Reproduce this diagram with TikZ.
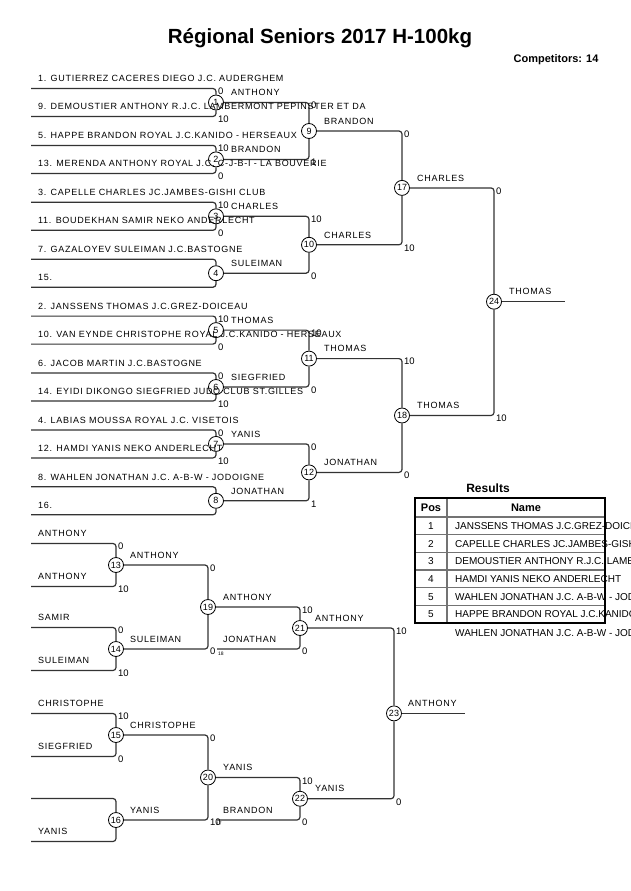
\documentclass[tikz,border=0pt]{standalone}
\usepackage{fontspec}
\setmainfont{Liberation Sans}
\newfontfamily\spaced[LetterSpace=8]{Liberation Sans}

\begin{document}
\begin{tikzpicture}[
    x=1pt, y=-1pt,
    wire/.style={draw=black!80, line width=1.2pt, rounded corners=3pt},
    bout/.style={circle, draw, line width=0.8pt, fill=white, inner sep=0pt, minimum size=15pt, font=\fontsize{9}{9}\selectfont},
    who/.style={anchor=west, inner sep=0pt, text height=6.4pt, text depth=0pt, font=\spaced\fontsize{9}{10}\selectfont},
    pts/.style={anchor=west, inner sep=0pt, text height=6.6pt, text depth=0pt, font=\fontsize{9.5}{10}\selectfont},
    srcnum/.style={anchor=west, inner sep=0pt, font=\fontsize{5}{5}\selectfont},
    cell/.style={inner sep=0pt, text height=7.2pt, text depth=0pt, font=\fontsize{10}{11}\selectfont},
    headcell/.style={inner sep=0pt, text height=7.9pt, text depth=0pt, font=\bfseries\fontsize{11}{12}\selectfont}
]
\useasboundingbox (0,0) rectangle (630,891);

\node[font=\bfseries\fontsize{20.5}{22}\selectfont] (title) at (320,38) {Régional Seniors 2017 H-100kg};
\node[font=\bfseries\fontsize{11}{12}\selectfont] (count) at (556,60) {Competitors: 14};

% main draw, first round
\node[bout] (m1) at (216,102.5) {1};
\node[bout] (m2) at (216,159.4) {2};
\node[bout] (m3) at (216,216.3) {3};
\node[bout] (m4) at (216,273.2) {4};
\node[bout] (m5) at (216,330.1) {5};
\node[bout] (m6) at (216,387.0) {6};
\node[bout] (m7) at (216,443.9) {7};
\node[bout] (m8) at (216,500.8) {8};
% main draw, later rounds
\node[bout] (m9) at (309,131.0) {9};
\node[bout] (m10) at (309,244.8) {10};
\node[bout] (m11) at (309,358.6) {11};
\node[bout] (m12) at (309,472.4) {12};
\node[bout] (m17) at (402,187.9) {17};
\node[bout] (m18) at (402,415.5) {18};
\node[bout] (m24) at (494,301.7) {24};
% repechage
\node[bout] (m13) at (116,565) {13};
\node[bout] (m14) at (116,649) {14};
\node[bout] (m15) at (116,735) {15};
\node[bout] (m16) at (116,820) {16};
\node[bout] (m19) at (208,607) {19};
\node[bout] (m20) at (208,777.5) {20};
\node[bout] (m21) at (300,628) {21};
\node[bout] (m22) at (300,798.75) {22};
\node[bout] (m23) at (394,713.4) {23};

% free ends of the lines
\coordinate (e1a) at (31,88.5);  \coordinate (e1b) at (31,116.5);
\coordinate (e2a) at (31,145.4); \coordinate (e2b) at (31,173.4);
\coordinate (e3a) at (31,202.3); \coordinate (e3b) at (31,230.3);
\coordinate (e4a) at (31,259.2); \coordinate (e4b) at (31,287.2);
\coordinate (e5a) at (31,316.1); \coordinate (e5b) at (31,344.1);
\coordinate (e6a) at (31,373.0); \coordinate (e6b) at (31,401.0);
\coordinate (e7a) at (31,429.9); \coordinate (e7b) at (31,457.9);
\coordinate (e8a) at (31,486.8); \coordinate (e8b) at (31,514.8);
\coordinate (e13a) at (31,543.5); \coordinate (e13b) at (31,586.5);
\coordinate (e14a) at (31,627.5); \coordinate (e14b) at (31,670.5);
\coordinate (e15a) at (31,713.5); \coordinate (e15b) at (31,756.5);
\coordinate (e16a) at (31,798.5); \coordinate (e16b) at (31,841.5);
\coordinate (from18) at (217,649);
\coordinate (from17) at (217,820);
\coordinate (end24) at (565,301.7);
\coordinate (end23) at (465,713.4);

\draw[wire] (e1a) -| (m1);  \draw[wire] (e1b) -| (m1);
\draw[wire] (e2a) -| (m2);  \draw[wire] (e2b) -| (m2);
\draw[wire] (e3a) -| (m3);  \draw[wire] (e3b) -| (m3);
\draw[wire] (e4a) -| (m4);  \draw[wire] (e4b) -| (m4);
\draw[wire] (e5a) -| (m5);  \draw[wire] (e5b) -| (m5);
\draw[wire] (e6a) -| (m6);  \draw[wire] (e6b) -| (m6);
\draw[wire] (e7a) -| (m7);  \draw[wire] (e7b) -| (m7);
\draw[wire] (e8a) -| (m8);  \draw[wire] (e8b) -| (m8);
\draw[wire] (m1) -| (m9);   \draw[wire] (m2) -| (m9);
\draw[wire] (m3) -| (m10);  \draw[wire] (m4) -| (m10);
\draw[wire] (m5) -| (m11);  \draw[wire] (m6) -| (m11);
\draw[wire] (m7) -| (m12);  \draw[wire] (m8) -| (m12);
\draw[wire] (m9) -| (m17);  \draw[wire] (m10) -| (m17);
\draw[wire] (m11) -| (m18); \draw[wire] (m12) -| (m18);
\draw[wire] (m17) -| (m24); \draw[wire] (m18) -| (m24);
\draw[wire] (m24) -- (end24);

\draw[wire] (e13a) -| (m13); \draw[wire] (e13b) -| (m13);
\draw[wire] (e14a) -| (m14); \draw[wire] (e14b) -| (m14);
\draw[wire] (e15a) -| (m15); \draw[wire] (e15b) -| (m15);
\draw[wire] (e16a) -| (m16); \draw[wire] (e16b) -| (m16);
\draw[wire] (m13) -| (m19); \draw[wire] (m14) -| (m19);
\draw[wire] (m15) -| (m20); \draw[wire] (m16) -| (m20);
\draw[wire] (m19) -| (m21); \draw[wire] (from18) -| (m21);
\draw[wire] (m20) -| (m22); \draw[wire] (from17) -| (m22);
\draw[wire] (m21) -| (m23); \draw[wire] (m22) -| (m23);
\draw[wire] (m23) -- (end23);

% competitors
\node[who] (c1) at (38,78.5) {1. GUTIERREZ CACERES DIEGO J.C. AUDERGHEM};
\node[who] (c9) at (38,106.5) {9. DEMOUSTIER ANTHONY R.J.C. LAMBERMONT PEPINSTER ET DA};
\node[who] (c5) at (38,135.4) {5. HAPPE BRANDON ROYAL J.C.KANIDO - HERSEAUX};
\node[who] (c13) at (38,163.4) {13. MERENDA ANTHONY ROYAL J.C. C-J-B-I - LA BOUVERIE};
\node[who] (c3) at (38,192.3) {3. CAPELLE CHARLES JC.JAMBES-GISHI CLUB};
\node[who] (c11) at (38,220.3) {11. BOUDEKHAN SAMIR NEKO ANDERLECHT};
\node[who] (c7) at (38,249.2) {7. GAZALOYEV SULEIMAN J.C.BASTOGNE};
\node[who] (c15) at (38,277.2) {15.};
\node[who] (c2) at (38,306.1) {2. JANSSENS THOMAS J.C.GREZ-DOICEAU};
\node[who] (c10) at (38,334.1) {10. VAN EYNDE CHRISTOPHE ROYAL J.C.KANIDO - HERSEAUX};
\node[who] (c6) at (38,363.0) {6. JACOB MARTIN J.C.BASTOGNE};
\node[who] (c14) at (38,391.0) {14. EYIDI DIKONGO SIEGFRIED JUDO CLUB ST.GILLES};
\node[who] (c4) at (38,419.9) {4. LABIAS MOUSSA ROYAL J.C. VISETOIS};
\node[who] (c12) at (38,447.9) {12. HAMDI YANIS NEKO ANDERLECHT};
\node[who] (c8) at (38,476.8) {8. WAHLEN JONATHAN J.C. A-B-W - JODOIGNE};
\node[who] (c16) at (38,504.8) {16.};
\node[who] (r13a) at (38,533.5) {ANTHONY};
\node[who] (r13b) at (38,576.5) {ANTHONY};
\node[who] (r14a) at (38,617.5) {SAMIR};
\node[who] (r14b) at (38,660.5) {SULEIMAN};
\node[who] (r15a) at (38,703.5) {CHRISTOPHE};
\node[who] (r15b) at (38,746.5) {SIEGFRIED};
\node[who] (r16b) at (38,831.5) {YANIS};
\node[who] (r21b) at (223,639) {JONATHAN};
\node[who] (r22b) at (223,810) {BRANDON};

% winners
\node[who] (w1) at (231,92.5) {ANTHONY};
\node[who] (w2) at (231,149.4) {BRANDON};
\node[who] (w3) at (231,206.3) {CHARLES};
\node[who] (w4) at (231,263.2) {SULEIMAN};
\node[who] (w5) at (231,320.1) {THOMAS};
\node[who] (w6) at (231,377.0) {SIEGFRIED};
\node[who] (w7) at (231,433.9) {YANIS};
\node[who] (w8) at (231,490.8) {JONATHAN};
\node[who] (w9) at (324,121.0) {BRANDON};
\node[who] (w10) at (324,234.8) {CHARLES};
\node[who] (w11) at (324,348.6) {THOMAS};
\node[who] (w12) at (324,462.4) {JONATHAN};
\node[who] (w17) at (417,177.9) {CHARLES};
\node[who] (w18) at (417,405.5) {THOMAS};
\node[who] (w24) at (509,291.7) {THOMAS};
\node[who] (w13) at (130,555) {ANTHONY};
\node[who] (w14) at (130,639) {SULEIMAN};
\node[who] (w15) at (130,725) {CHRISTOPHE};
\node[who] (w16) at (130,810) {YANIS};
\node[who] (w19) at (223,597) {ANTHONY};
\node[who] (w20) at (223,767.5) {YANIS};
\node[who] (w21) at (315,618) {ANTHONY};
\node[who] (w22) at (315,788.75) {YANIS};
\node[who] (w23) at (408,703.4) {ANTHONY};

% scores
\node[pts] (s1a) at (218,91.5) {0};    \node[pts] (s1b) at (218,119.5) {10};
\node[pts] (s2a) at (218,148.4) {10};  \node[pts] (s2b) at (218,176.4) {0};
\node[pts] (s3a) at (218,205.3) {10};  \node[pts] (s3b) at (218,233.3) {0};
\node[pts] (s5a) at (218,319.1) {10};  \node[pts] (s5b) at (218,347.1) {0};
\node[pts] (s6a) at (218,376.0) {0};   \node[pts] (s6b) at (218,404.0) {10};
\node[pts] (s7a) at (218,432.9) {0};   \node[pts] (s7b) at (218,460.9) {10};
\node[pts] (s9a) at (311,105.5) {0};   \node[pts] (s9b) at (311,162.4) {1};
\node[pts] (s10a) at (311,219.3) {10}; \node[pts] (s10b) at (311,276.2) {0};
\node[pts] (s11a) at (311,333.1) {10}; \node[pts] (s11b) at (311,390.0) {0};
\node[pts] (s12a) at (311,446.9) {0};  \node[pts] (s12b) at (311,503.8) {1};
\node[pts] (s17a) at (404,134.0) {0};  \node[pts] (s17b) at (404,247.8) {10};
\node[pts] (s18a) at (404,361.6) {10}; \node[pts] (s18b) at (404,475.4) {0};
\node[pts] (s24a) at (496,190.9) {0};  \node[pts] (s24b) at (496,418.5) {10};
\node[pts] (s13a) at (118,546.5) {0};  \node[pts] (s13b) at (118,589.5) {10};
\node[pts] (s14a) at (118,630.5) {0};  \node[pts] (s14b) at (118,673.5) {10};
\node[pts] (s15a) at (118,716.5) {10}; \node[pts] (s15b) at (118,759.5) {0};
\node[pts] (s19a) at (210,568) {0};    \node[pts] (s19b) at (210,651) {0};
\node[pts] (s20a) at (210,738.5) {0};  \node[pts] (s20b) at (210,822) {10};
\node[pts] (s21a) at (302,610) {10};   \node[pts] (s21b) at (302,651) {0};
\node[pts] (s22a) at (302,781) {10};   \node[pts] (s22b) at (302,822) {0};
\node[pts] (s23a) at (396,631) {10};   \node[pts] (s23b) at (396,802) {0};
\node[srcnum] (src18) at (218,653.5) {18};
\node[srcnum] (src17) at (216,824) {17};

% results
\node[font=\bfseries\fontsize{12}{13}\selectfont] (restitle) at (488,488) {Results};
\node[headcell] (hpos) at (431,507.5) {Pos};
\node[headcell] (hname) at (526,507.5) {Name};
\node[cell] (p1) at (431,525.8) {1};
\node[cell] (p2) at (431,543.5) {2};
\node[cell] (p3) at (431,561.2) {3};
\node[cell] (p4) at (431,578.8) {4};
\node[cell] (p5) at (431,596.5) {5};
\node[cell] (p6) at (431,614.2) {5};
\node[cell, anchor=west] (n1) at (455,525.8) {JANSSENS THOMAS J.C.GREZ-DOICEAU};
\node[cell, anchor=west] (n2) at (455,543.5) {CAPELLE CHARLES JC.JAMBES-GISHI CLUB};
\node[cell, anchor=west] (n3) at (455,561.2) {DEMOUSTIER ANTHONY R.J.C. LAMBERMONT PEPINSTER ET DA};
\node[cell, anchor=west] (n4) at (455,578.8) {HAMDI YANIS NEKO ANDERLECHT};
\node[cell, anchor=west] (n5) at (455,596.5) {WAHLEN JONATHAN J.C. A-B-W - JODOIGNE};
\node[cell, anchor=west] (n6) at (455,614.2) {HAPPE BRANDON ROYAL J.C.KANIDO - HERSEAUX};
\node[cell, anchor=west] (n7) at (455,633) {WAHLEN JONATHAN J.C. A-B-W - JODOIGNE};
\draw[black!55, line width=1.2pt] (415,517) -- (605,517) (415,534.7) -- (605,534.7)
    (415,552.3) -- (605,552.3) (415,570) -- (605,570) (415,587.7) -- (605,587.7)
    (415,605.3) -- (605,605.3) (447,498) -- (447,623);
\draw[line width=2pt] (415,498) rectangle (605,623);
\end{tikzpicture}
\end{document}
